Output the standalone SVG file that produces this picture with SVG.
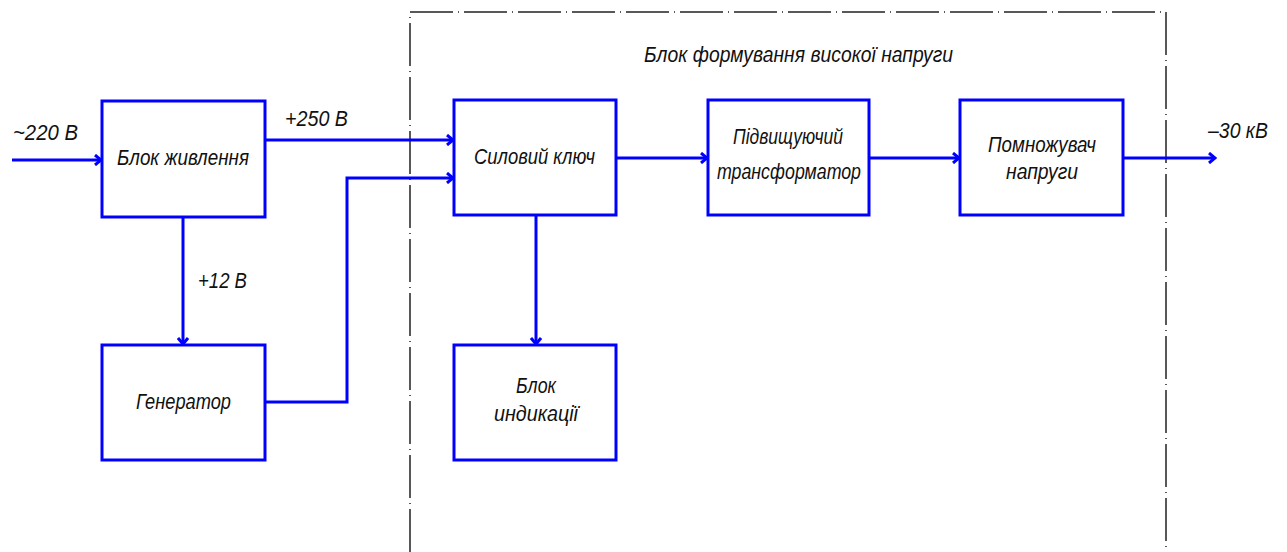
<svg xmlns="http://www.w3.org/2000/svg" width="1287" height="552" viewBox="0 0 1287 552">
<defs>
<style>
.box{fill:#fff;stroke:#0000ff;stroke-width:3}
.w{fill:none;stroke:#0000ff;stroke-width:3}
.frame{fill:none;stroke:#222;stroke-width:1.5;stroke-dasharray:43 5 1 5}
text{font-family:"Liberation Sans","DejaVu Sans",sans-serif;font-style:italic;font-size:22px;fill:#111}
</style>
<marker id="ah" markerWidth="12" markerHeight="12" refX="10" refY="6" orient="auto" markerUnits="userSpaceOnUse">
<polyline points="4,1 10,6 4,11" fill="none" stroke="#0000ff" stroke-width="3"/>
</marker>
</defs>
<rect width="1287" height="552" fill="#fff"/>
<g id="frame">
<polyline class="frame" points="410,552 410,12 1166,12 1166,552"/>
<text x="644" y="62" textLength="309" lengthAdjust="spacingAndGlyphs">Блок формування високої напруги</text>
</g>
<g id="connectors">
<line class="w" x1="12" y1="160" x2="101" y2="160" marker-end="url(#ah)"/>
<line class="w" x1="265" y1="140" x2="453" y2="140" marker-end="url(#ah)"/>
<polyline class="w" points="265,402 347,402 347,178 453,178" marker-end="url(#ah)"/>
<line class="w" x1="183" y1="217" x2="183" y2="344" marker-end="url(#ah)"/>
<line class="w" x1="536" y1="215" x2="536" y2="344" marker-end="url(#ah)"/>
<line class="w" x1="616" y1="158" x2="707" y2="158" marker-end="url(#ah)"/>
<line class="w" x1="869" y1="158" x2="959" y2="158" marker-end="url(#ah)"/>
<line class="w" x1="1123" y1="158" x2="1215" y2="158" marker-end="url(#ah)"/>
<text x="13" y="140" textLength="65" lengthAdjust="spacingAndGlyphs">~220 В</text>
<text x="285" y="126" textLength="63" lengthAdjust="spacingAndGlyphs">+250 В</text>
<text x="198" y="288" textLength="49" lengthAdjust="spacingAndGlyphs">+12 В</text>
<text x="1208" y="138" textLength="60" lengthAdjust="spacingAndGlyphs">–30 кВ</text>
</g>
<g id="n-zhyvlennia">
<rect class="box" x="102" y="101" width="163" height="116"/>
<text x="117" y="165" textLength="132" lengthAdjust="spacingAndGlyphs">Блок живлення</text>
</g>
<g id="n-generator">
<rect class="box" x="102" y="345" width="163" height="115"/>
<text x="136" y="409" textLength="95" lengthAdjust="spacingAndGlyphs">Генератор</text>
</g>
<g id="n-kliuch">
<rect class="box" x="454" y="100" width="162" height="115"/>
<text x="474" y="164" textLength="121" lengthAdjust="spacingAndGlyphs">Силовий ключ</text>
</g>
<g id="n-indykatsii">
<rect class="box" x="454" y="345" width="162" height="115"/>
<text x="516" y="393" textLength="40" lengthAdjust="spacingAndGlyphs">Блок</text>
<text x="494" y="421" textLength="84" lengthAdjust="spacingAndGlyphs">индикації</text>
</g>
<g id="n-transformator">
<rect class="box" x="708" y="100" width="161" height="115"/>
<text x="733" y="144" textLength="110" lengthAdjust="spacingAndGlyphs">Підвищуючий</text>
<text x="717" y="179" textLength="144" lengthAdjust="spacingAndGlyphs">трансформатор</text>
</g>
<g id="n-pomnozhuvach">
<rect class="box" x="960" y="100" width="163" height="115"/>
<text x="988" y="152" textLength="108" lengthAdjust="spacingAndGlyphs">Помножувач</text>
<text x="1006" y="179" textLength="72" lengthAdjust="spacingAndGlyphs">напруги</text>
</g>
</svg>
